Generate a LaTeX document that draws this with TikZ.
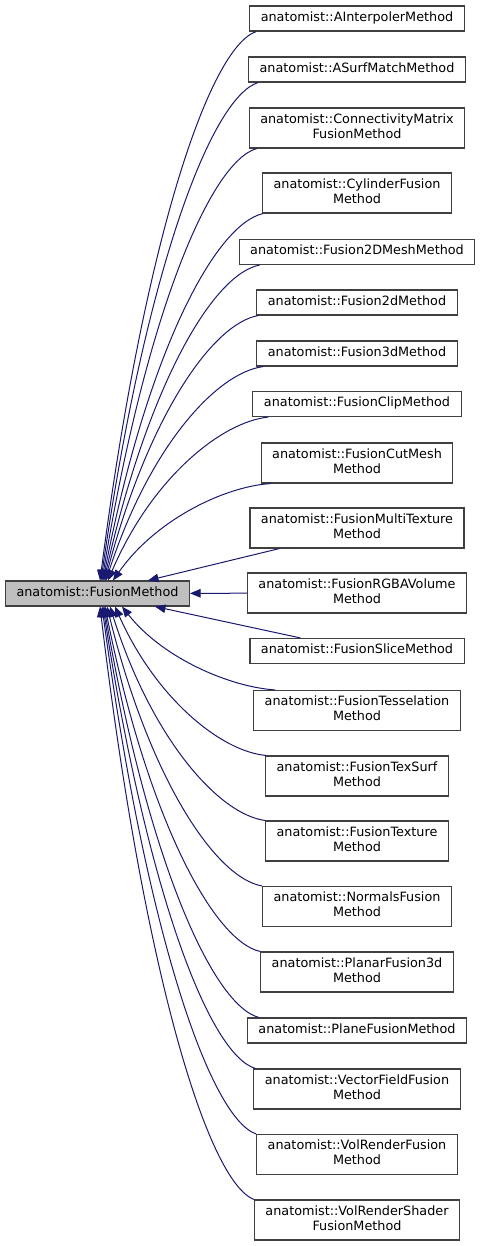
\documentclass[tikz,border=0pt]{standalone}
\usepackage{fontspec}
\setmainfont{DejaVu Sans}
\usetikzlibrary{arrows.meta}
\definecolor{navy}{HTML}{191970}
\definecolor{frame}{HTML}{404040}
\definecolor{basefill}{HTML}{BFBFBF}

\begin{document}
\begin{tikzpicture}[x=1pt,y=-1pt,
	cls/.style={draw=frame, line width=1.1pt, fill=white, align=center, inner xsep=11pt, inner ysep=1pt,
		minimum height=25pt, font=\fontsize{12.8}{14.7}\selectfont,
		execute at begin node=\strut, execute at end node=\strut},
	twoline/.style={minimum height=40pt},
	inh/.style={navy, line width=1pt, -{Triangle[length=10.5pt,width=8.5pt]}}]
			\useasboundingbox (0,0) rectangle (481,1246);

			\node[cls, fill=basefill] (base) at (97.5,593.5) {anatomist::FusionMethod};

			\node[cls] (c01) at (357,18.5) {anatomist::AInterpolerMethod};
			\node[cls] (c02) at (357,69.5) {anatomist::ASurfMatchMethod};
			\node[cls, twoline] (c03) at (357,128) {anatomist::ConnectivityMatrix\\FusionMethod};
			\node[cls, twoline] (c04) at (357,193) {anatomist::CylinderFusion\\Method};
			\node[cls] (c05) at (357,252) {anatomist::Fusion2DMeshMethod};
			\node[cls] (c06) at (357,302.5) {anatomist::Fusion2dMethod};
			\node[cls] (c07) at (357,353.5) {anatomist::Fusion3dMethod};
			\node[cls] (c08) at (357,404) {anatomist::FusionClipMethod};
			\node[cls, twoline] (c09) at (357,463) {anatomist::FusionCutMesh\\Method};
			\node[cls, twoline] (c10) at (357,528) {anatomist::FusionMultiTexture\\Method};
			\node[cls, twoline] (c11) at (357,593) {anatomist::FusionRGBAVolume\\Method};
			\node[cls] (c12) at (357,651) {anatomist::FusionSliceMethod};
			\node[cls, twoline] (c13) at (357,710.5) {anatomist::FusionTesselation\\Method};
			\node[cls, twoline] (c14) at (357,776) {anatomist::FusionTexSurf\\Method};
			\node[cls, twoline] (c15) at (357,841) {anatomist::FusionTexture\\Method};
			\node[cls, twoline] (c16) at (357,906.5) {anatomist::NormalsFusion\\Method};
			\node[cls, twoline] (c17) at (357,972) {anatomist::PlanarFusion3d\\Method};
			\node[cls] (c18) at (357,1030.5) {anatomist::PlaneFusionMethod};
			\node[cls, twoline] (c19) at (357,1089) {anatomist::VectorFieldFusion\\Method};
			\node[cls, twoline] (c20) at (357,1154.5) {anatomist::VolRenderFusion\\Method};
			\node[cls, twoline] (c21) at (357,1220) {anatomist::VolRenderShader\\FusionMethod};

			\draw[inh] ([xshift=7pt]c01.south west) .. controls +(-47,16) and +(44,-340) .. ([xshift=2.5pt]base.north);
			\draw[inh] ([xshift=10pt]c02.south west) .. controls +(-47,15) and +(44,-309) .. ([xshift=3.5pt]base.north);
			\draw[inh] ([xshift=8pt]c03.south west) .. controls +(-46,13) and +(44,-268) .. ([xshift=4.5pt]base.north);
			\draw[inh] ([xshift=1pt]c04.south west) .. controls +(-48,11) and +(44,-228) .. ([xshift=5.5pt]base.north);
			\draw[inh] ([xshift=21pt]c05.south west) .. controls +(-47,9) and +(44,-195) .. ([xshift=6.5pt]base.north);
			\draw[inh] ([xshift=2pt]c06.south west) .. controls +(-46,8) and +(43,-164) .. ([xshift=7.5pt]base.north);
			\draw[inh] ([xshift=7pt]c07.south west) .. controls +(-47,6) and +(43,-133) .. ([xshift=8.5pt]base.north);
			\draw[inh] ([xshift=16pt]c08.south west) .. controls +(-48,5) and +(43,-101) .. ([xshift=10.5pt]base.north);
			\draw[inh] ([xshift=10pt]c09.south west) .. controls +(-47,3) and +(42,-60) .. ([xshift=15.5pt]base.north);
			\draw[inh] ([xshift=30pt]c10.south west) -- ([xshift=50.5pt]base.north);
			\draw[inh] (c11) -- (base);
			\draw[inh] ([xshift=51pt]c12.north west) -- ([xshift=57.5pt]base.south);
			\draw[inh] ([xshift=22pt]c13.north west) .. controls +(-45,-3) and +(41,52) .. ([xshift=24.5pt]base.south);
			\draw[inh] ([xshift=1pt]c14.north west) .. controls +(-45,-4) and +(41,92) .. ([xshift=17.5pt]base.south);
			\draw[inh] (c15.north west) .. controls +(-46,-6) and +(42,133) .. ([xshift=12.5pt]base.south);
			\draw[inh] (c16.north west) .. controls +(-46,-8) and +(43,174) .. ([xshift=9.5pt]base.south);
			\draw[inh] (c17.north west) .. controls +(-46,-10) and +(43,214) .. ([xshift=7.5pt]base.south);
			\draw[inh] ([xshift=12pt]c18.north west) .. controls +(-46,-12) and +(44,255) .. ([xshift=6.5pt]base.south);
			\draw[inh] ([xshift=2pt]c19.north west) .. controls +(-46,-14) and +(44,286) .. ([xshift=5.5pt]base.south);
			\draw[inh] (c20.north west) .. controls +(-46,-16) and +(44,327) .. ([xshift=4.5pt]base.south);
			\draw[inh] (c21.north west) .. controls +(-46,-18) and +(44,368) .. ([xshift=2.5pt]base.south);
\end{tikzpicture}
\end{document}
